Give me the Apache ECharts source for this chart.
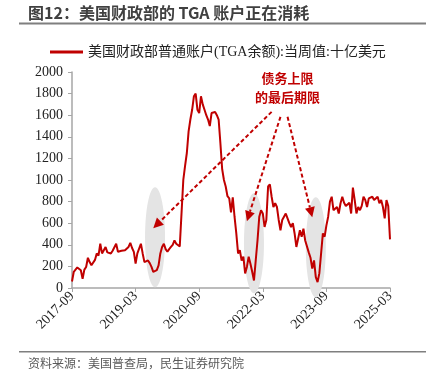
<!DOCTYPE html>
<html><head><meta charset="utf-8">
<script src="https://cdn.jsdelivr.net/npm/echarts@6/dist/echarts.min.js"></script>
<style>html,body{margin:0;padding:0;background:#fff}#c{width:434px;height:389px}</style>
</head><body><div id="c"></div>
<script>
// semi-monthly TGA balance (billion USD), from 2017-09 to 2025-03
const tgaValues = [
 60,150, 165,190, 175,165, 85,170, 195,280, 240,210, 210,260, 320,300, 410,320, 330,380,
 330,340, 320,345, 360,410, 335,350, 345,360, 350,365, 380,418, 370,335, 225,320, 320,410,
 320,240, 245,255, 230,195, 150,155, 165,210, 320,380, 410,360, 335,360, 380,400, 440,410,
 395,385, 385,1000, 1130,1250, 1450,1560, 1650,1775, 1800,1650, 1620,1775, 1700,1650, 1600,1560, 1500,1620,
 1620,1630, 1600,1560, 1340,1100, 1000,940, 850,830, 700,840, 660,505, 320,350, 255,290, 135,195,
 290,225, 150,70, 255,440, 660,720, 690,565, 630,940, 960,845, 750,785, 750,630, 535,630,
 660,690, 645,600, 565,600, 505,380, 380,535, 475,550, 440,440, 330,280, 180,255, 100,55,
 135,320, 505,475, 580,660, 800,845, 720,720, 750,690, 785,845, 790,760, 750,790, 690,930,
 815,690, 750,720, 760,845, 815,750, 830,815, 845,815, 830,845, 785,815, 750,645, 815,760,
 450
];
const tickLabels = ['2017-09','2019-03','2020-09','2022-03','2023-09','2025-03'];
const startYear = 2017, startMonth = 9;
const categories = tgaValues.map((v,i)=>{
  const m = Math.floor(i/2); const tot = startMonth - 1 + m;
  const y = startYear + Math.floor(tot/12), mo = tot % 12 + 1;
  return y + '-' + String(mo).padStart(2,'0') + (i%2 ? '-16' : '-01');
});
const seriesName = '美国财政部普通账户(TGA余额):当周值:十亿美元';
// annotations in data coordinates [category index, value]
const ellipses = [[47,470],[103,415],[138,378]];
const arrows = [[[113,1631],[46,554]],[[118,1585],[99,619]],[[122,1585],[136,656]]];
const noteLines = ['债务上限','的最后期限'];
const noteAnchor = [[122,1947],[122,1770]];

const red = '#c00000';
const chart = echarts.init(document.getElementById('c'));
const serif = '"Liberation Serif","Noto Sans CJK SC",serif';
chart.setOption({
  animation:false,
  grid:{left:72,right:44,top:72,bottom:101},
  legend:{top:40,left:45,itemWidth:33,itemHeight:3,icon:'rect',itemGap:4,
    textStyle:{fontFamily:serif,fontSize:14,color:'#222'},data:[seriesName]},
  xAxis:{type:'category',data:categories,boundaryGap:false,
    axisLine:{lineStyle:{color:'#a6a6a6',width:1.5}},
    axisTick:{interval:35,length:4,lineStyle:{color:'#a6a6a6'}},
    axisLabel:{interval:35,rotate:45,fontFamily:serif,fontSize:14,color:'#222',margin:6,
      formatter:v=>{const s=v.slice(0,7);return tickLabels.includes(s)?s:'';}},
    splitLine:{show:false}},
  yAxis:{type:'value',min:0,max:2000,interval:200,
    axisLine:{show:true,lineStyle:{color:'#a6a6a6',width:1.5}},
    axisTick:{show:true,length:4,lineStyle:{color:'#a6a6a6'}},
    axisLabel:{fontFamily:serif,fontSize:14,color:'#222',margin:9,formatter:v=>String(v)},
    splitLine:{show:false}},
  series:[{name:seriesName,type:'line',data:tgaValues,showSymbol:false,z:5,
    lineStyle:{color:red,width:2},itemStyle:{color:red}}]
});
const px = p => chart.convertToPixel({gridIndex:0}, p);
const g = [];
g.push({type:'text',left:28,top:5,style:{text:'图12：美国财政部的 TGA 账户正在消耗',font:'bold 16px "Noto Sans CJK SC",sans-serif',fill:'#404040'}});
g.push({type:'rect',shape:{x:19,y:22.5,width:407,height:2},style:{fill:'#7f7f7f'}});
g.push({type:'rect',shape:{x:19,y:351,width:407,height:1.5},style:{fill:'#7f7f7f'}});
g.push({type:'text',left:28,top:357,style:{text:'资料来源：美国普查局，民生证券研究院',font:'12px "Noto Sans CJK SC",sans-serif',fill:'#595959'}});
ellipses.forEach(e=>{const c=px(e);g.push({type:'ellipse',z:1,shape:{cx:c[0],cy:c[1],rx:10,ry:50},style:{fill:'#e4e4e4'}});});
arrows.forEach(a=>{
  const s=px(a[0]), t=px(a[1]);
  const dx=t[0]-s[0], dy=t[1]-s[1], L=Math.hypot(dx,dy), ux=dx/L, uy=dy/L;
  const hl=10, hw=5;
  const bx=t[0]-ux*hl, by=t[1]-uy*hl;
  g.push({type:'line',z:20,shape:{x1:s[0],y1:s[1],x2:bx,y2:by},style:{stroke:red,lineWidth:2,lineDash:[4,2.5]}});
  g.push({type:'polygon',z:20,shape:{points:[[t[0],t[1]],[bx-uy*hw,by+ux*hw],[bx+uy*hw,by-ux*hw]]},style:{fill:red}});
});
noteLines.forEach((s,i)=>{const c=px(noteAnchor[i]);
  g.push({type:'text',z:20,x:c[0],y:c[1],style:{text:s,font:'bold 13px "Noto Sans CJK SC",sans-serif',fill:red,align:'center',verticalAlign:'middle'}});});
chart.setOption({graphic:g});
</script></body></html>
